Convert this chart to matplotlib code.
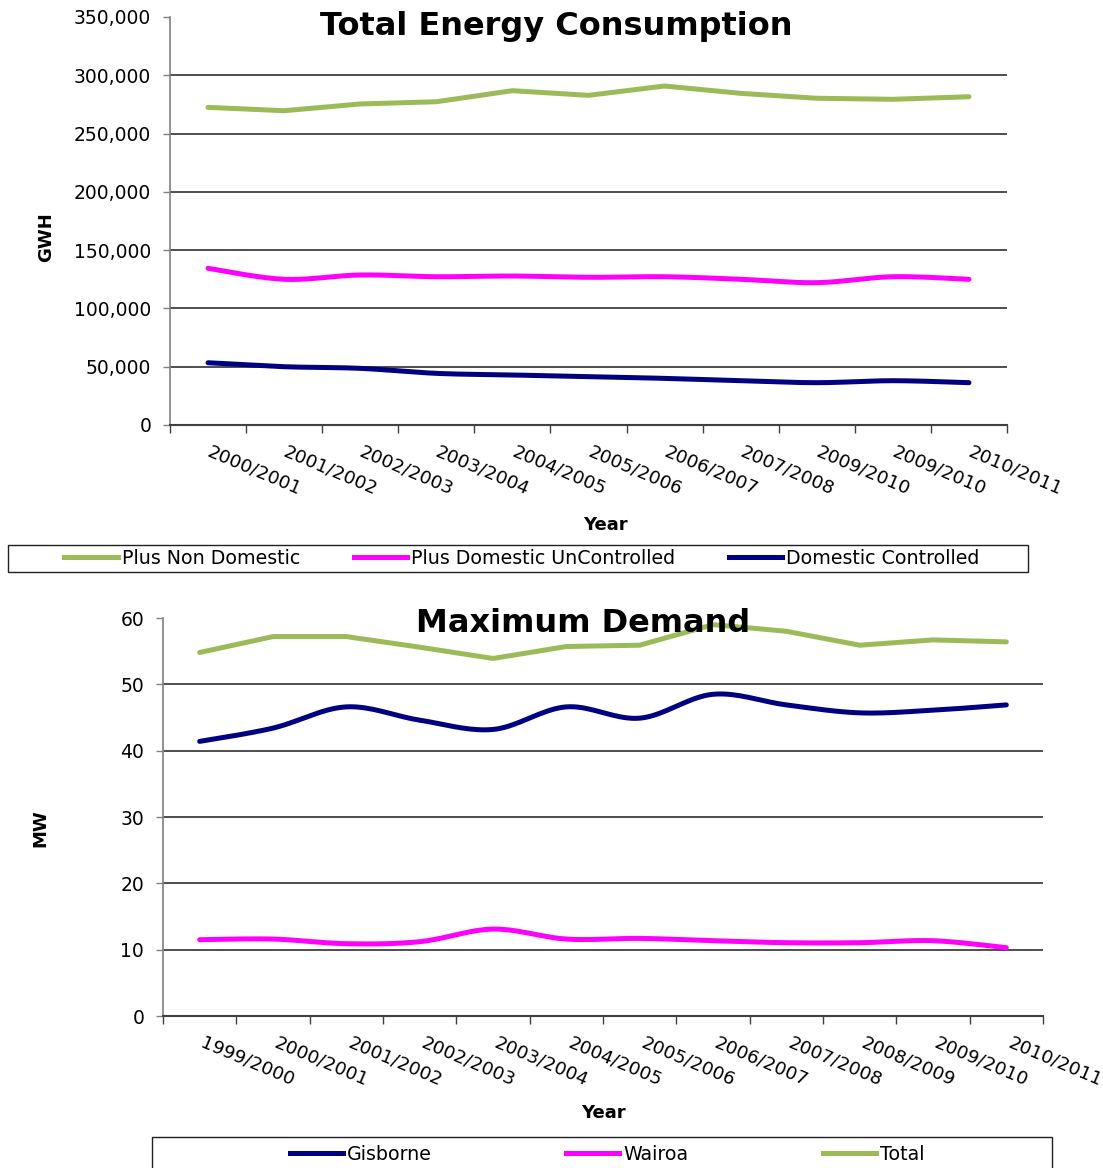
import numpy as np
import matplotlib
matplotlib.use("Agg")
import matplotlib.pyplot as plt
from matplotlib.lines import Line2D
from matplotlib.patches import Rectangle

# ---------------- data ----------------
years_energy = ["2000/2001", "2001/2002", "2002/2003", "2003/2004", "2004/2005",
                "2005/2006", "2006/2007", "2007/2008", "2009/2010", "2009/2010",
                "2010/2011"]
non_domestic = [272500, 269600, 275400, 277300, 286800, 282800, 290800, 284500,
                280300, 279400, 281600]
domestic_uncontrolled = [134400, 125000, 128700, 127200, 127800, 126700, 127200,
                         125000, 122100, 127200, 125000]
domestic_controlled = [53400, 50000, 48600, 44300, 42900, 41500, 40000, 38000,
                       36300, 38000, 36300]
energy_yticks = [0, 50000, 100000, 150000, 200000, 250000, 300000, 350000]

years_demand = ["1999/2000", "2000/2001", "2001/2002", "2002/2003", "2003/2004",
                "2004/2005", "2005/2006", "2006/2007", "2007/2008", "2008/2009",
                "2009/2010", "2010/2011"]
gisborne = [41.4, 43.4, 46.6, 44.6, 43.2, 46.6, 44.9, 48.5, 46.9, 45.7, 46.1, 46.9]
wairoa = [11.5, 11.6, 10.9, 11.2, 13.1, 11.6, 11.7, 11.35, 11.05, 11.05, 11.35, 10.3]
total = [54.8, 57.2, 57.2, 55.6, 53.9, 55.7, 55.9, 59.0, 58.0, 55.9, 56.7, 56.4]
demand_yticks = [0, 10, 20, 30, 40, 50, 60]

GREEN = "#9BBB59"
MAGENTA = "#FF00FF"
NAVY = "#000080"

W, H = 1103, 1168
def fx(p):
    return p / W
def fy(p):
    return 1 - p / H


def smooth(xs, ys, n=20):
    """Excel-like smoothed line (uniform Catmull-Rom Bezier through the points)."""
    x = np.asarray(xs, float)
    y = np.asarray(ys, float)
    px = np.concatenate([[x[0]], x, [x[-1]]])
    py = np.concatenate([[y[0]], y, [y[-1]]])
    outx, outy = [], []
    t = np.linspace(0, 1, n)
    for i in range(1, len(px) - 2):
        p0 = np.array([px[i], py[i]])
        p3 = np.array([px[i + 1], py[i + 1]])
        c1 = p0 + (np.array([px[i + 1], py[i + 1]]) - np.array([px[i - 1], py[i - 1]])) / 6
        c2 = p3 - (np.array([px[i + 2], py[i + 2]]) - np.array([px[i], py[i]])) / 6
        b = ((1 - t) ** 3)[:, None] * p0 + (3 * (1 - t) ** 2 * t)[:, None] * c1 + \
            (3 * (1 - t) * t ** 2)[:, None] * c2 + (t ** 3)[:, None] * p3
        outx.extend(b[:, 0])
        outy.extend(b[:, 1])
    return outx, outy


plt.rcParams['font.family'] = ['DejaVu Sans']
fig = plt.figure(figsize=(W / 100, H / 100), dpi=100)

YTICK_FS = 13.5
XTICK_FS = 13.2
LEG_FS = 13.7
LW = 3.6
ROT = -23


def style_axes(ax, ncat, yticks, ylabels, ymax):
    ax.set_xlim(-0.5, ncat - 0.5)
    ax.set_ylim(0, ymax)
    ax.set_yticks(yticks)
    ax.set_yticklabels(ylabels, fontsize=YTICK_FS)
    for s in ["top", "right"]:
        ax.spines[s].set_visible(False)
    ax.spines["left"].set_color("#808080")
    ax.spines["left"].set_linewidth(1.2)
    ax.spines["bottom"].set_color("#404040")
    ax.spines["bottom"].set_linewidth(1.5)
    ax.yaxis.grid(True, color="#303030", linewidth=1.2)
    ax.set_axisbelow(True)
    ax.tick_params(axis="y", length=5, width=1, color="#808080", pad=8.5)
    ax.set_xticks(np.arange(-0.5, ncat, 1.0), minor=True)
    ax.tick_params(axis="x", which="minor", length=6, width=1, color="#404040")
    ax.tick_params(axis="x", which="major", length=0, pad=12.5)
    gl = ax.get_ygridlines()
    gl[-1].set_visible(False)
    gl[0].set_visible(False)


# ---------------- top chart ----------------
ax1 = fig.add_axes([fx(170), fy(425), (1007 - 170) / W, (425 - 17) / H])
x1 = np.arange(len(years_energy))
style_axes(ax1, len(years_energy), energy_yticks,
           [f"{v:,}" for v in energy_yticks], 350000)
ax1.set_xticks(x1 + 0.05)
ax1.set_xticklabels(years_energy, rotation=ROT, ha="left", va="top",
                    rotation_mode="anchor", fontsize=XTICK_FS)
ax1.plot(x1, non_domestic, color=GREEN, lw=LW, solid_capstyle="round")
sx, sy = smooth(x1, domestic_uncontrolled)
ax1.plot(sx, sy, color=MAGENTA, lw=LW, solid_capstyle="round")
sx, sy = smooth(x1, domestic_controlled)
ax1.plot(sx, sy, color=NAVY, lw=LW, solid_capstyle="round")

fig.text(fx(556), fy(26), "Total Energy Consumption", fontsize=23,
         fontweight="bold", ha="center", va="center")
fig.text(fx(46), fy(237), "GWH", fontsize=13, fontweight="bold", rotation=90,
         ha="center", va="center")
fig.text(fx(605), fy(525), "Year", fontsize=13, fontweight="bold",
         ha="center", va="center")

h1 = [Line2D([], [], color=GREEN, lw=LW),
      Line2D([], [], color=MAGENTA, lw=LW),
      Line2D([], [], color=NAVY, lw=LW)]
fig.legend(h1, ["Plus Non Domestic", "Plus Domestic UnControlled", "Domestic Controlled"],
           loc="center", bbox_to_anchor=(fx(522), fy(558)), ncol=3, frameon=False,
           fontsize=LEG_FS, handlelength=2.79, handletextpad=0.21, columnspacing=2.84,
           borderpad=0, borderaxespad=0)
fig.patches.append(Rectangle((fx(8), fy(572)), (1028 - 8) / W, (572 - 545) / H,
                             transform=fig.transFigure, fill=False,
                             edgecolor="#202020", lw=1))

# ---------------- bottom chart ----------------
ax2 = fig.add_axes([fx(163), fy(1016), (1043 - 163) / W, (1016 - 618) / H])
x2 = np.arange(len(years_demand))
style_axes(ax2, len(years_demand), demand_yticks,
           [str(v) for v in demand_yticks], 60)
ax2.set_xticks(x2 + 0.08)
ax2.set_xticklabels(years_demand, rotation=ROT, ha="left", va="top",
                    rotation_mode="anchor", fontsize=XTICK_FS)
ax2.plot(x2, total, color=GREEN, lw=LW, solid_capstyle="round")
sx, sy = smooth(x2, gisborne)
ax2.plot(sx, sy, color=NAVY, lw=LW, solid_capstyle="round")
sx, sy = smooth(x2, wairoa)
ax2.plot(sx, sy, color=MAGENTA, lw=LW, solid_capstyle="round")

fig.text(fx(583), fy(624), "Maximum Demand", fontsize=23,
         fontweight="bold", ha="center", va="center")
fig.text(fx(40), fy(828), "MW", fontsize=13, fontweight="bold", rotation=90,
         ha="center", va="center")
fig.text(fx(603), fy(1113), "Year", fontsize=13, fontweight="bold",
         ha="center", va="center")

h2 = [Line2D([], [], color=NAVY, lw=LW),
      Line2D([], [], color=MAGENTA, lw=LW),
      Line2D([], [], color=GREEN, lw=LW)]
fig.legend(h2, ["Gisborne", "Wairoa", "Total"],
           loc="center", bbox_to_anchor=(fx(607), fy(1154)), ncol=3, frameon=False,
           fontsize=LEG_FS, handlelength=2.79, handletextpad=0.21, columnspacing=7.07,
           borderpad=0, borderaxespad=0)
fig.patches.append(Rectangle((fx(152), fy(1180)), (1052 - 152) / W, (1180 - 1137) / H,
                             transform=fig.transFigure, fill=False,
                             edgecolor="#202020", lw=1, clip_on=False))

fig.savefig("out.png", dpi=100)
